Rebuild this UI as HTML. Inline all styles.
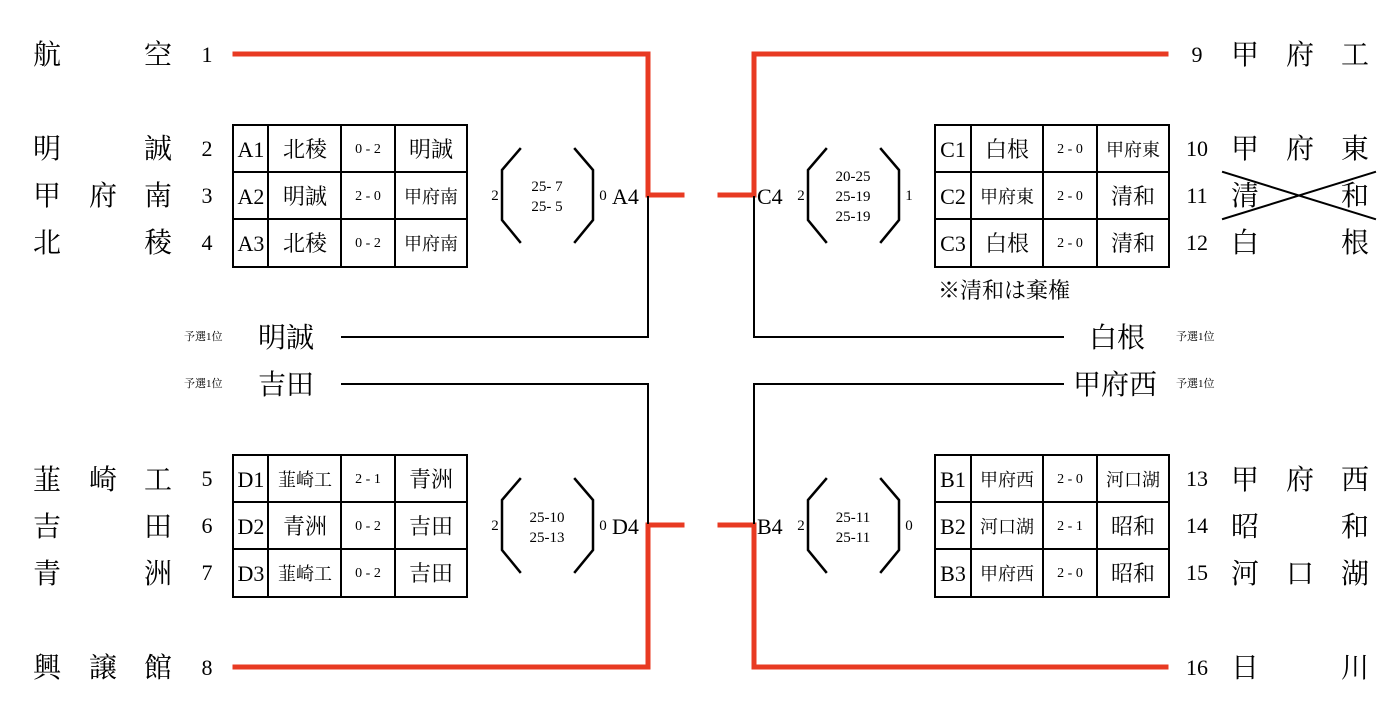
<!DOCTYPE html>
<html><head><meta charset="utf-8"><style>
html,body{margin:0;padding:0;background:#fff;width:1400px;height:705px;overflow:hidden}
svg{display:block}
text{font-family:"Liberation Serif","Noto Serif CJK SC","Noto Sans CJK JP",serif;fill:#000}
.n{font-size:28px}
.num{font-size:22px}
.cell{font-size:22px}
.sc{font-size:14px}
.sm{font-size:11px}
.q{font-size:28px}
</style></head><body>
<svg width="1400" height="705" viewBox="0 0 1400 705" xmlns="http://www.w3.org/2000/svg">
<g fill="none" stroke-linecap="square">
<g stroke="#e83a22" stroke-width="5">
<polyline points="235,54 648,54 648,195 682,195"/>
<polyline points="235,667 648,667 648,525 682,525"/>
<polyline points="1166,54 754,54 754,195 720,195"/>
<polyline points="1166,667 754,667 754,525 720,525"/>
</g>
<g stroke="#000" stroke-width="2">
<polyline points="342,337 648,337 648,197"/>
<polyline points="342,384 648,384 648,523"/>
<polyline points="1063,337 754,337 754,197"/>
<polyline points="1063,384 754,384 754,523"/>
<rect x="233" y="125" width="234" height="142"/>
<line x1="233" y1="172" x2="467" y2="172"/><line x1="233" y1="219" x2="467" y2="219"/>
<line x1="268" y1="125" x2="268" y2="267"/><line x1="341" y1="125" x2="341" y2="267"/><line x1="395" y1="125" x2="395" y2="267"/>
<rect x="233" y="455" width="234" height="142"/>
<line x1="233" y1="502" x2="467" y2="502"/><line x1="233" y1="549" x2="467" y2="549"/>
<line x1="268" y1="455" x2="268" y2="597"/><line x1="341" y1="455" x2="341" y2="597"/><line x1="395" y1="455" x2="395" y2="597"/>
<rect x="935" y="125" width="234" height="142"/>
<line x1="935" y1="172" x2="1169" y2="172"/><line x1="935" y1="219" x2="1169" y2="219"/>
<line x1="971" y1="125" x2="971" y2="267"/><line x1="1043" y1="125" x2="1043" y2="267"/><line x1="1097" y1="125" x2="1097" y2="267"/>
<rect x="935" y="455" width="234" height="142"/>
<line x1="935" y1="502" x2="1169" y2="502"/><line x1="935" y1="549" x2="1169" y2="549"/>
<line x1="971" y1="455" x2="971" y2="597"/><line x1="1043" y1="455" x2="1043" y2="597"/><line x1="1097" y1="455" x2="1097" y2="597"/>
<g stroke-width="2.5">
<polyline points="520,149 502,170 502,220 520,242"/><polyline points="575,149 593,170 593,220 575,242"/>
<polyline points="520,479 502,500 502,550 520,572"/><polyline points="575,479 593,500 593,550 575,572"/>
<polyline points="826,149 808,170 808,220 826,242"/><polyline points="881,149 899,170 899,220 881,242"/>
<polyline points="826,479 808,500 808,550 826,572"/><polyline points="881,479 899,500 899,550 881,572"/>
</g>
<line x1="1223" y1="172" x2="1375" y2="219"/><line x1="1223" y1="219" x2="1375" y2="172"/>
</g>
</g>
<g class="n">
<text x="33" y="64">航</text><text x="144" y="64">空</text>
<text x="33" y="158">明</text><text x="144" y="158">誠</text>
<text x="33" y="205">甲</text><text x="89" y="205">府</text><text x="144" y="205">南</text>
<text x="33" y="252">北</text><text x="144" y="252">稜</text>
<text x="33" y="489">韮</text><text x="89" y="489">崎</text><text x="144" y="489">工</text>
<text x="33" y="536">吉</text><text x="144" y="536">田</text>
<text x="33" y="583">青</text><text x="144" y="583">洲</text>
<text x="33" y="677">興</text><text x="89" y="677">譲</text><text x="144" y="677">館</text>
</g>
<g class="num" text-anchor="middle">
<text x="207" y="62">1</text><text x="207" y="156">2</text><text x="207" y="203">3</text><text x="207" y="250">4</text>
<text x="207" y="486">5</text><text x="207" y="533">6</text><text x="207" y="580">7</text><text x="207" y="675">8</text>
<text x="1197" y="62">9</text><text x="1197" y="156">10</text><text x="1197" y="203">11</text><text x="1197" y="250">12</text>
<text x="1197" y="486">13</text><text x="1197" y="533">14</text><text x="1197" y="580">15</text><text x="1197" y="675">16</text>
</g>
<g class="n">
<text x="1231" y="64">甲</text><text x="1286" y="64">府</text><text x="1341" y="64">工</text>
<text x="1231" y="158">甲</text><text x="1286" y="158">府</text><text x="1341" y="158">東</text>
<text x="1231" y="205">清</text><text x="1341" y="205">和</text>
<text x="1231" y="252">白</text><text x="1341" y="252">根</text>
<text x="1231" y="489">甲</text><text x="1286" y="489">府</text><text x="1341" y="489">西</text>
<text x="1231" y="536">昭</text><text x="1341" y="536">和</text>
<text x="1231" y="583">河</text><text x="1286" y="583">口</text><text x="1341" y="583">湖</text>
<text x="1231" y="677">日</text><text x="1341" y="677">川</text>
</g>
<g text-anchor="middle">
<g class="cell">
<text x="251" y="157">A1</text><text x="251" y="204">A2</text><text x="251" y="251">A3</text>
<text x="305" y="157">北稜</text><text x="305" y="204">明誠</text><text x="305" y="251">北稜</text>
<text x="431" y="157">明誠</text>
<text x="251" y="487">D1</text><text x="251" y="534">D2</text><text x="251" y="581">D3</text>
<text x="305" y="534">青洲</text>
<text x="431" y="487">青洲</text><text x="431" y="534">吉田</text><text x="431" y="581">吉田</text>
<text x="953" y="157">C1</text><text x="953" y="204">C2</text><text x="953" y="251">C3</text>
<text x="1007" y="157">白根</text><text x="1007" y="251">白根</text>
<text x="1133" y="204">清和</text><text x="1133" y="251">清和</text>
<text x="953" y="487">B1</text><text x="953" y="534">B2</text><text x="953" y="581">B3</text>
<text x="1133" y="534">昭和</text><text x="1133" y="581">昭和</text>
</g>
<g style="font-size:18px">
<text x="431" y="203">甲府南</text><text x="431" y="250">甲府南</text>
<text x="305" y="486">韮崎工</text><text x="305" y="580">韮崎工</text>
<text x="1133" y="156">甲府東</text><text x="1007" y="203">甲府東</text>
<text x="1007" y="486">甲府西</text><text x="1007" y="533">河口湖</text><text x="1007" y="580">甲府西</text>
<text x="1133" y="486">河口湖</text>
</g>
<g class="sc" xml:space="preserve">
<text x="368" y="153">0  -  2</text><text x="368" y="200">2  -  0</text><text x="368" y="247">0  -  2</text>
<text x="368" y="483">2  -  1</text><text x="368" y="530">0  -  2</text><text x="368" y="577">0  -  2</text>
<text x="1070" y="153">2  -  0</text><text x="1070" y="200">2  -  0</text><text x="1070" y="247">2  -  0</text>
<text x="1070" y="483">2  -  0</text><text x="1070" y="530">2  -  1</text><text x="1070" y="577">2  -  0</text>
</g>
<g style="font-size:15px">
<text x="547" y="191">25- 7</text><text x="547" y="211">25- 5</text>
<text x="547" y="522">25-10</text><text x="547" y="542">25-13</text>
<text x="853" y="181">20-25</text><text x="853" y="201">25-19</text><text x="853" y="221">25-19</text>
<text x="853" y="522">25-11</text><text x="853" y="542">25-11</text>
<text x="495" y="200">2</text><text x="603" y="200">0</text>
<text x="495" y="530">2</text><text x="603" y="530">0</text>
<text x="801" y="200">2</text><text x="909" y="200">1</text>
<text x="801" y="530">2</text><text x="909" y="530">0</text>
</g>
</g>
<g class="cell">
<text x="612" y="204">A4</text><text x="612" y="534">D4</text>
<text x="757" y="204">C4</text><text x="757" y="534">B4</text>
<text x="938" y="298">※清和は棄権</text>
</g>
<g class="sm">
<text x="184" y="340">予選1位</text><text x="184" y="387">予選1位</text>
<text x="1176" y="340">予選1位</text><text x="1176" y="387">予選1位</text>
</g>
<g class="q">
<text x="258" y="347">明誠</text><text x="258" y="394">吉田</text>
<text x="1089" y="347">白根</text><text x="1073" y="394">甲府西</text>
</g>
</svg>
</body></html>
